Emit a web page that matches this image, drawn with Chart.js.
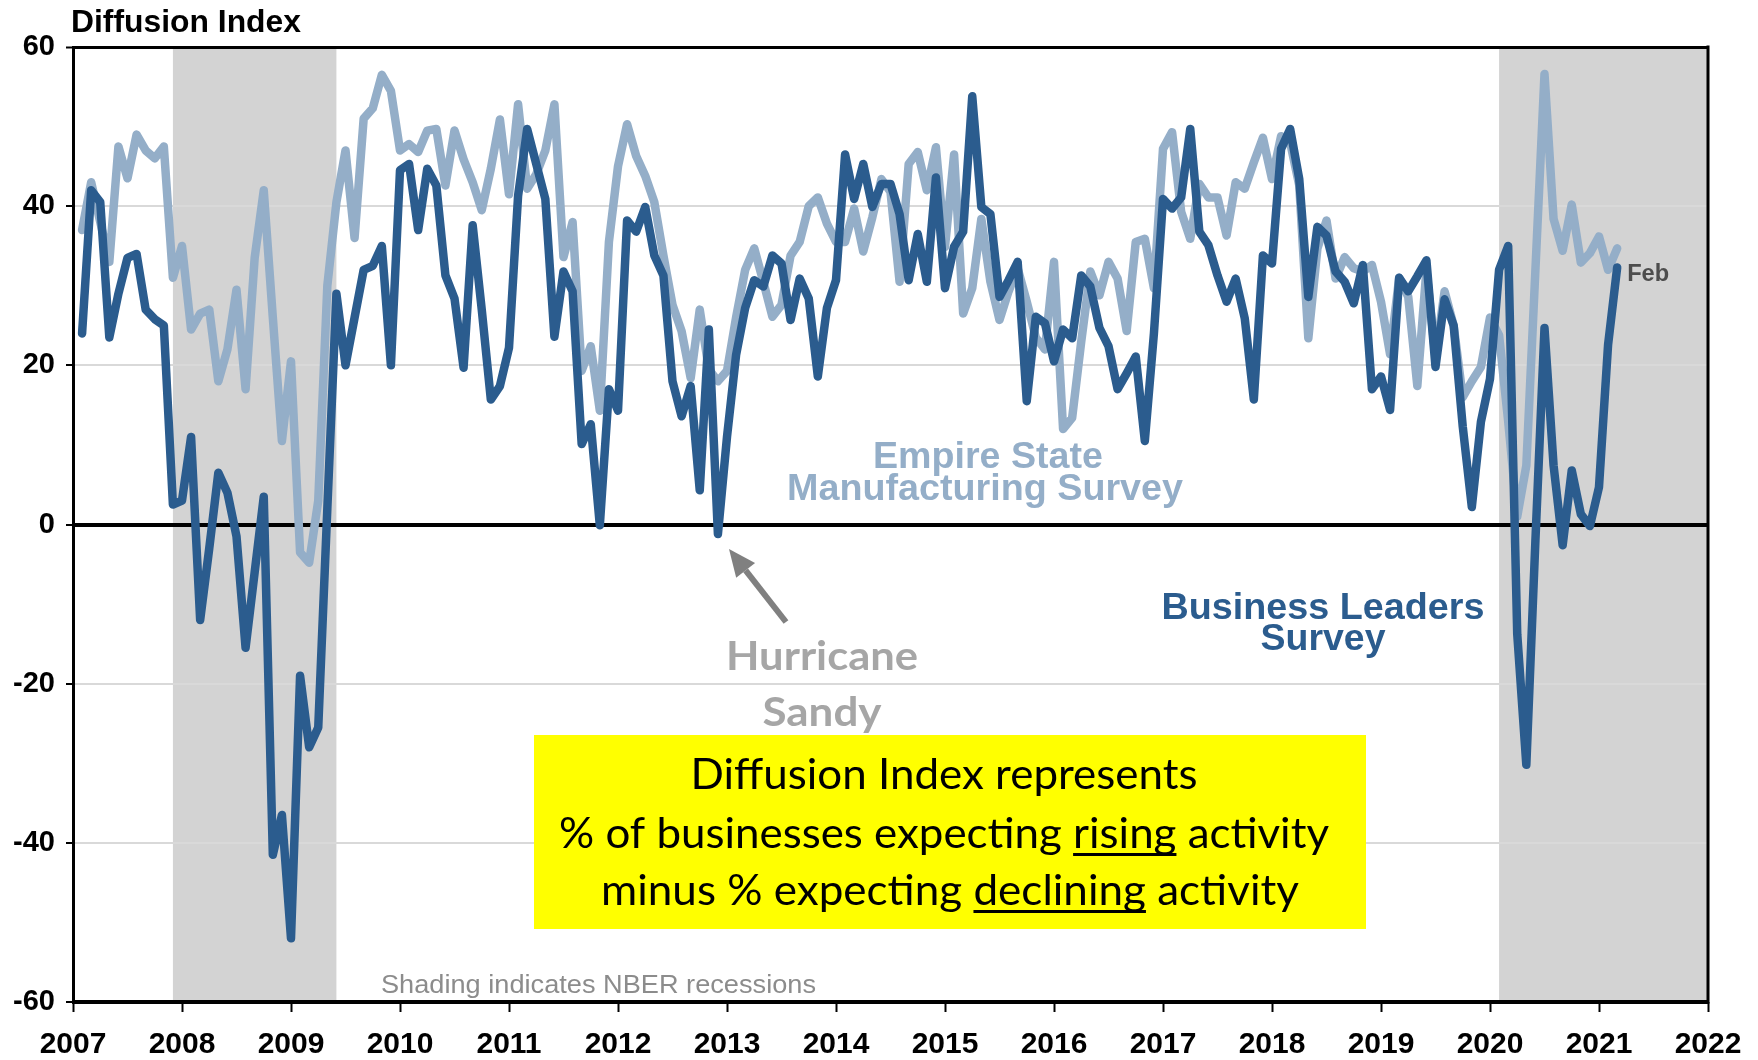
<!DOCTYPE html>
<html>
<head>
<meta charset="utf-8">
<title>Diffusion Index</title>
<script src="https://cdn.jsdelivr.net/npm/chart.js@4.4.1/dist/chart.umd.min.js"></script>
<style>
  html, body { margin: 0; padding: 0; background: #fff; }
  canvas { display: block; }
</style>
</head>
<body>
<canvas id="myChart" width="1758" height="1060" style="width:1758px;height:1060px"></canvas>
<script>
// Aylık değerler, Ocak 2007 - Şubat 2021 (her değer ayın sonuna çizilir)
var startYear = 2007;

var businessLeaders = [
  24, 42, 40.5, 23.5, 29, 33.5, 34, 27, 25.8, 25, 2.5, 3,            // 2007
  11, -12, -3, 6.5, 4, -1.5, -15.5, -6, 3.5, -41.5, -36.5, -52,      // 2008
  -19, -28, -25.5, 2, 29, 20, 26, 32, 32.5, 35, 20, 44.5,            // 2009
  45.3, 37, 44.7, 42.6, 31.3, 28.4, 19.7, 37.6, 27, 15.7, 17.4, 22.2, // 2010
  41.3, 49.7, 45.3, 40.9, 23.6, 31.8, 29.3, 10.1, 12.6, -0.1, 17, 14.3, // 2011
  38.2, 36.8, 39.9, 33.8, 31.3, 18, 13.6, 17.4, 4.3, 24.5, -1.2, 11,  // 2012
  21.3, 27.2, 30.7, 29.9, 33.8, 32.8, 25.7, 30.9, 28.4, 18.6, 27.2, 30.7, // 2013
  46.5, 40.9, 45.3, 39.9, 42.8, 42.8, 39, 30.7, 36.5, 30.5, 43.6, 29.7, // 2014
  34.9, 36.8, 53.8, 39.9, 39, 28.6, 30.7, 33, 15.5, 26.1, 25.3, 20.5, // 2015
  24.5, 23.4, 31.3, 29.9, 24.7, 22.4, 17, 19, 21.1, 10.5, 24, 40.9,   // 2016
  39.7, 41.1, 49.7, 36.8, 35.1, 31.3, 28, 30.9, 25.9, 15.7, 33.8, 32.8, // 2017
  47.2, 49.7, 43.4, 28.6, 37.4, 36.3, 31.8, 30.5, 27.8, 32.6, 17, 18.6, // 2018
  14.4, 31, 29.3, 31.2, 33.2, 19.8, 28.3, 25, 12.3, 2.2, 12.9, 18.3,  // 2019
  32, 35, -13.8, -30.2, -2, 24.7, 7.4, -2.6, 6.8, 1.3, -0.2, 4.7,     // 2020
  22.6, 32.3                                                          // 2021
];

var empireState = [
  37, 43, 38, 33, 47.5, 43.5, 49, 47, 46, 47.5, 31, 35,              // 2007
  24.5, 26.5, 27, 18, 22, 29.5, 17, 33.5, 42, 26, 10.5, 20.5,        // 2008
  -3.5, -4.8, 3, 30, 40.5, 47, 36, 51, 52.3, 56.5, 54.5, 47,         // 2009
  47.8, 46.8, 49.5, 49.7, 42.6, 49.5, 45.9, 43, 39.5, 44.7, 50.9, 41.5, // 2010
  52.8, 42.2, 44, 47, 52.8, 33.6, 38, 19.3, 22.4, 14.3, 35.5, 45,    // 2011
  50.3, 46.3, 43.8, 40.5, 33.8, 27.6, 24.3, 18.4, 27, 19.5, 18, 19.3, // 2012
  26, 32, 34.7, 30.5, 26.1, 27.6, 33.8, 35.5, 40, 41.1, 37.8, 35.5,  // 2013
  35.5, 39.7, 34.3, 38.6, 43.4, 41.8, 30.5, 45.3, 46.8, 42, 47.4, 34.9, // 2014
  46.5, 26.5, 29.7, 38.4, 30.5, 25.7, 29.3, 32.2, 28, 23.5, 22, 33,  // 2015
  12, 13.4, 23, 31.8, 28.8, 33, 30.9, 24.3, 35.5, 35.9, 29.7, 47.2,  // 2016
  49.3, 39.3, 35.9, 42.8, 41.1, 41.1, 36.3, 43, 42.2, 45.5, 48.6, 43.4, // 2017
  48.8, 48, 42.6, 23.4, 34.7, 38.2, 30.9, 33.6, 32.2, 31.8, 32.6, 28, // 2018
  21.4, 31, 28.6, 17.4, 32, 21, 29.3, 25, 16, 18, 19.8, 26,          // 2019
  23.8, 13, 1, 7.4, 32, 56.6, 38.4, 34.4, 40.2, 32.9, 34.1, 36.2,    // 2020
  32, 34.7                                                           // 2021
];

var yearTicks = [2007, 2008, 2009, 2010, 2011, 2012, 2013, 2014, 2015, 2016, 2017, 2018, 2019, 2020, 2021, 2022];
var valueTicks = [-60, -40, -20, 0, 20, 40, 60];

// NBER resesyon dönemleri (yıl cinsinden başlangıç / bitiş)
var recessionStart = [2007 + 11 / 12, 2020 + 1 / 12];
var recessionEnd = [2009 + 5 / 12, 2022];

var DARK = "#2b5c8e";
var LIGHT = "#94aec8";
var FONT = "'Liberation Sans', Arial, sans-serif";

function toPoints(values) {
  var points = [];
  for (var i = 0; i < values.length; i++) {
    points.push({ x: startYear + (i + 1) / 12, y: values[i] });
  }
  return points;
}

// Metni çizer; width verilirse yatayda o genişliğe oturtulur
function drawLabel(ctx, text, x, y, font, color, align, width) {
  ctx.save();
  ctx.font = font;
  ctx.fillStyle = color;
  ctx.textBaseline = "alphabetic";
  ctx.textAlign = "left";
  var w = ctx.measureText(text).width;
  var sx = width ? width / w : 1;
  var left = x;
  if (align === "center") left = x - (w * sx) / 2;
  if (align === "right") left = x - w * sx;
  ctx.translate(left, y);
  ctx.scale(sx, 1);
  ctx.fillText(text, 0, 0);
  ctx.restore();
  return { left: left, sx: sx };
}

function underlineWord(ctx, line, word, info, font, y) {
  ctx.save();
  ctx.font = font;
  var idx = line.indexOf(word);
  var x0 = info.left + ctx.measureText(line.slice(0, idx)).width * info.sx;
  var w = ctx.measureText(word).width * info.sx;
  ctx.fillStyle = "#000";
  ctx.fillRect(x0, y, w, 3);
  ctx.restore();
}

function drawArrow(ctx, x1, y1, x2, y2) {
  var ang = Math.atan2(y2 - y1, x2 - x1);
  var head = 27, half = 12;
  var bx = x2 - head * Math.cos(ang);
  var by = y2 - head * Math.sin(ang);
  ctx.save();
  ctx.strokeStyle = "#808080";
  ctx.fillStyle = "#808080";
  ctx.lineWidth = 6;
  ctx.beginPath();
  ctx.moveTo(x1, y1);
  ctx.lineTo(bx, by);
  ctx.stroke();
  ctx.beginPath();
  ctx.moveTo(x2, y2);
  ctx.lineTo(bx + half * Math.sin(ang), by - half * Math.cos(ang));
  ctx.lineTo(bx - half * Math.sin(ang), by + half * Math.cos(ang));
  ctx.closePath();
  ctx.fill();
  ctx.restore();
}

var recessionShading = {
  id: "recessionShading",
  beforeDraw: function (chart) {
    var ctx = chart.ctx, area = chart.chartArea, x = chart.scales.x;
    ctx.save();
    ctx.fillStyle = "#d3d3d3";
    for (var i = 0; i < recessionStart.length; i++) {
      var a = x.getPixelForValue(recessionStart[i]);
      var b = x.getPixelForValue(recessionEnd[i]);
      ctx.fillRect(a, area.top, b - a, area.bottom - area.top);
    }
    ctx.restore();
  }
};

var annotations = {
  id: "annotations",
  afterDatasetsDraw: function (chart) {
    var ctx = chart.ctx, area = chart.chartArea;

    // sağ eksen çizgisi
    ctx.save();
    ctx.fillStyle = "#000";
    ctx.fillRect(area.right - 1.5, area.top - 1.5, 3, area.bottom - area.top + 3);
    ctx.restore();

    drawLabel(ctx, "Diffusion Index", 71, 32, "bold 31px " + FONT, "#000", "left", 230);

    drawLabel(ctx, "Empire State", 988, 468, "bold 36px " + FONT, LIGHT, "center", 230);
    drawLabel(ctx, "Manufacturing Survey", 985, 500, "bold 36px " + FONT, LIGHT, "center", 396);

    drawLabel(ctx, "Business Leaders", 1323, 619, "bold 37px " + FONT, DARK, "center", 323);
    drawLabel(ctx, "Survey", 1323, 650, "bold 37px " + FONT, DARK, "center", 125);

    drawLabel(ctx, "Hurricane", 822, 670, "bold 41px Lato, 'Open Sans', sans-serif", "#a6a6a6", "center", 192);
    drawLabel(ctx, "Sandy", 822, 726, "bold 41px Lato, 'Open Sans', sans-serif", "#a6a6a6", "center", 119);
    drawArrow(ctx, 786, 622, 729, 549);

    // sarı açıklama kutusu
    ctx.save();
    ctx.fillStyle = "#ffff00";
    ctx.fillRect(534, 735, 832, 194);
    ctx.restore();
    var boxFont = "42px Lato, 'Open Sans', sans-serif";
    var l1 = "Diffusion Index represents";
    var l2 = "% of businesses expecting rising activity";
    var l3 = "minus % expecting declining activity";
    drawLabel(ctx, l1, 944, 789, boxFont, "#000", "center", 507);
    var i2 = drawLabel(ctx, l2, 944, 848, boxFont, "#000", "center", 770);
    underlineWord(ctx, l2, "rising", i2, boxFont, 853);
    var i3 = drawLabel(ctx, l3, 950, 905, boxFont, "#000", "center", 698);
    underlineWord(ctx, l3, "declining", i3, boxFont, 910);

    drawLabel(ctx, "Shading indicates NBER recessions", 381, 993, "26px " + FONT, "#8c8c8c", "left", 435);

    // son nokta etiketi
    var meta = chart.getDatasetMeta(0);
    var last = meta.data[meta.data.length - 1];
    drawLabel(ctx, "Feb", last.x + 10, last.y + 14, "bold 24px " + FONT, "#4d4d4d", "left", 42);
  }
};

function createChart() {
  var ctx = document.getElementById("myChart").getContext("2d");

  var myChart = new Chart(ctx, {
    type: "line",
    data: {
      datasets: [
        {
          label: "Business Leaders Survey",
          data: toPoints(businessLeaders),
          borderColor: DARK,
          borderWidth: 8.5,
          pointRadius: 0,
          tension: 0,
          borderJoinStyle: "round",
          borderCapStyle: "round",
          fill: false
        },
        {
          label: "Empire State Manufacturing Survey",
          data: toPoints(empireState),
          borderColor: LIGHT,
          borderWidth: 8.5,
          pointRadius: 0,
          tension: 0,
          borderJoinStyle: "round",
          borderCapStyle: "round",
          fill: false
        }
      ]
    },
    options: {
      responsive: false,
      animation: false,
      devicePixelRatio: 1,
      layout: { padding: { top: 47, right: 50, left: 0, bottom: 0 } },
      plugins: {
        legend: { display: false },
        tooltip: { enabled: false }
      },
      scales: {
        x: {
          type: "linear",
          min: 2007,
          max: 2022,
          afterBuildTicks: function (scale) {
            scale.ticks = yearTicks.map(function (v) { return { value: v }; });
          },
          afterFit: function (scale) { scale.height = 58; },
          ticks: {
            color: "#000",
            font: { family: FONT, size: 30, weight: "bold" },
            padding: 15,
            maxRotation: 0,
            autoSkip: false,
            callback: function (v) { return String(v); }
          },
          grid: {
            drawOnChartArea: false,
            tickLength: 10,
            tickColor: "#000",
            tickWidth: 2
          },
          border: { display: false }
        },
        y: {
          min: -60,
          max: 60,
          afterBuildTicks: function (scale) {
            scale.ticks = valueTicks.map(function (v) { return { value: v }; });
          },
          afterFit: function (scale) { scale.width = 73; },
          ticks: {
            color: "#000",
            font: { family: FONT, size: 29, weight: "bold" },
            padding: 11
          },
          grid: {
            color: function (c) {
              var v = c.tick ? c.tick.value : null;
              return (v === 0 || v === 60 || v === -60) ? "#000" : "#d9d9d9";
            },
            lineWidth: function (c) {
              var v = c.tick ? c.tick.value : null;
              if (v === -60 || v === 0) return 4;
              if (v === 60) return 3;
              return 2;
            },
            tickLength: 7,
            tickColor: "#000",
            tickWidth: 2
          },
          border: { display: true, color: "#000", width: 3 }
        }
      }
    },
    plugins: [recessionShading, annotations]
  });
}

createChart();
</script>
</body>
</html>
